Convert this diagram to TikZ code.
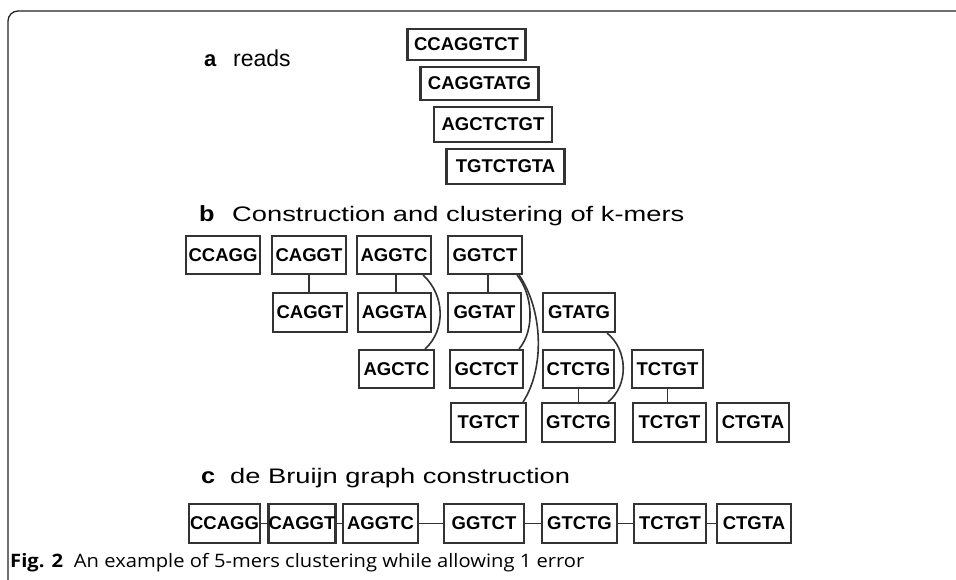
\documentclass[tikz,border=0pt]{standalone}
\usepackage{fontspec}
\setmainfont{Liberation Sans}
\newfontfamily\capfont{Open Sans}
\usetikzlibrary{calc}
\definecolor{boxgray}{HTML}{333333}
\definecolor{framegray}{HTML}{222222}
\tikzset{
  kbox/.style={draw=boxgray, line width=2.1pt, inner sep=0pt, minimum width=74pt, minimum height=38pt,
    font=\fontsize{18.5}{18.5}\selectfont\bfseries},
  rbox/.style={kbox, minimum width=118pt, minimum height=33pt},
  link/.style={draw=boxgray, line width=1.6pt},
  heading/.style={anchor=base west, inner sep=0pt, font=\fontsize{21}{21}\selectfont},
  label/.style={anchor=base west, inner sep=0pt, font=\fontsize{22}{22}\selectfont\bfseries},
}
\begin{document}
\begin{tikzpicture}[x=1pt,y=-1pt]
\useasboundingbox (0,0) rectangle (956,579);
\fill[white] (0,0) rectangle (956,579);
% frame
\draw[draw=framegray, line width=1.3pt, rounded corners=10pt] (8,585) -- (8,11) -- (962,11);

% a: reads
\node[label] (la) at (204,66) {a};
\node[heading, font=\fontsize{23}{23}\selectfont] (ta) at (233,66) {reads};
\node[rbox, minimum height=31pt] (r1) at (466.5,44.5) {CCAGGTCT};
\node[rbox] (r2) at (479.5,83.5) {CAGGTATG};
\node[rbox, minimum height=35pt] (r3) at (493,124.5) {AGCTCTGT};
\node[rbox, minimum height=35pt] (r4) at (505.5,166.5) {TGTCTGTA};

% b: construction and clustering
\node[label] (lb) at (199,221) {\scalebox{1.15}[1]{b}};
\node[heading] (tb) at (232,221) {\scalebox{1.3}[1]{Construction and clustering of k-mers}};

\node[kbox] (b_ccagg) at (223,255) {CCAGG};
\node[kbox] (b_caggt1) at (309,255) {CAGGT};
\node[kbox] (b_aggtc) at (394,255) {AGGTC};
\node[kbox] (b_ggtct) at (485,255) {GGTCT};

\node[kbox, minimum height=39pt] (b_caggt2) at (310,312.5) {CAGGT};
\node[kbox, minimum height=39pt, minimum width=73pt] (b_aggta) at (394.5,312.5) {AGGTA};
\node[kbox, minimum height=39pt, minimum width=73pt] (b_ggtat) at (484.5,312.5) {GGTAT};
\node[kbox, minimum height=39pt, minimum width=72pt] (b_gtatg) at (579,312.5) {GTATG};

\node[kbox, minimum width=75pt] (b_agctc) at (396.5,369) {AGCTC};
\node[kbox, minimum width=73pt] (b_gctct) at (486.5,369) {GCTCT};
\node[kbox, minimum width=71pt] (b_ctctg) at (578.5,369) {CTCTG};
\node[kbox, minimum width=71pt] (b_tctgt1) at (667.5,369) {TCTGT};

\node[kbox, minimum height=39pt, minimum width=75pt] (b_tgtct) at (488.5,422.5) {TGTCT};
\node[kbox, minimum height=39pt, minimum width=73pt] (b_gtctg) at (578.5,422.5) {GTCTG};
\node[kbox, minimum height=39pt, minimum width=73pt] (b_tctgt2) at (669.5,422.5) {TCTGT};
\node[kbox, minimum height=39pt, minimum width=72pt] (b_ctgta) at (753,422.5) {CTGTA};

\draw[link] (b_caggt1.south) -- (b_caggt1.south |- b_caggt2.north);
\draw[link] ($(b_aggtc.south)+(2,0)$) -- ($(b_aggtc.south |- b_aggta.north)+(2,0)$);
\draw[link] ($(b_ggtct.south)+(3,0)$) -- ($(b_ggtct.south |- b_ggtat.north)+(3,0)$);
\draw[link] (b_ctctg.south) -- (b_ctctg.south |- b_gtctg.north);
\draw[link] (b_tctgt1.south) -- (b_tctgt1.south |- b_tctgt2.north);

\draw[link] ($(b_aggtc.south east)+(-9,0)$) .. controls (445,295) and (446,330) .. ($(b_agctc.north east)+(-10,0)$);
\draw[link] ($(b_ggtct.south east)+(-6,0)$) .. controls (533,295) and (535,330) .. ($(b_gctct.north east)+(-5,0)$);
\draw[link] ($(b_ggtct.south east)+(-4,0)$) .. controls (543,310) and (545,368) .. ($(b_tgtct.north east)+(-4,0)$);
\draw[link] ($(b_gtatg.south east)+(-9,0)$) .. controls (628,350) and (629,385) .. ($(b_gtctg.north east)+(-8,0)$);

% c: de Bruijn graph
\node[label] (lc) at (201,483) {\scalebox{1.15}[1]{c}};
\node[heading] (tc) at (230,483) {\scalebox{1.3}[1]{de Bruijn graph construction}};

\node[kbox, minimum height=39pt, minimum width=71pt] (c1) at (224.5,523.5) {CCAGG};
\node[kbox, minimum height=39pt, minimum width=67pt] (c2) at (302,523.5) {CAGGT};
\node[kbox, minimum height=39pt, minimum width=75pt] (c3) at (380.5,523.5) {AGGTC};
\node[kbox, minimum height=39pt, minimum width=80pt] (c4) at (484,523.5) {GGTCT};
\node[kbox, minimum height=39pt, minimum width=75pt] (c5) at (579.5,523.5) {GTCTG};
\node[kbox, minimum height=39pt, minimum width=72pt] (c6) at (670,523.5) {TCTGT};
\node[kbox, minimum height=39pt, minimum width=74pt] (c7) at (754,523.5) {CTGTA};
\draw[link] (c1.east) -- (c2.west);
\draw[link] (c2.east) -- (c3.west);
\draw[link] (c3.east) -- (c4.west);
\draw[link] (c4.east) -- (c5.west);
\draw[link] (c5.east) -- (c6.west);
\draw[link] (c6.east) -- (c7.west);

% caption
\node[anchor=base west, inner sep=0pt, font=\capfont\fontsize{18.5}{18.5}\selectfont] (cap) at (10,567)
  {\scalebox{1.09}[1]{\textbf{Fig. 2}\hspace{10pt}An example of 5-mers clustering while allowing 1 error}};
\end{tikzpicture}
\end{document}
